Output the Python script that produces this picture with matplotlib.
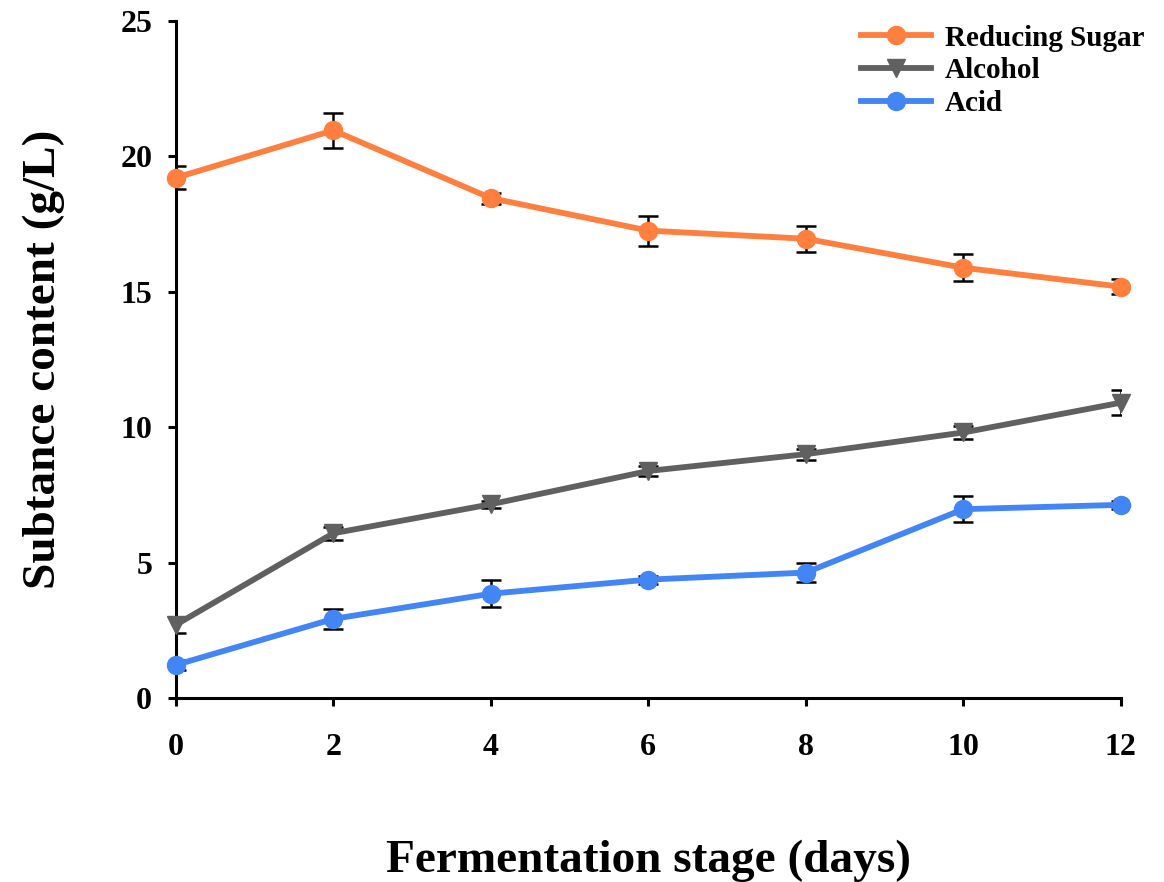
import matplotlib
matplotlib.use("Agg")
import matplotlib.pyplot as plt

plt.rcParams['font.family'] = ['Liberation Serif', 'DejaVu Serif']
plt.rcParams['font.weight'] = 'bold'

days = [0, 2, 4, 6, 8, 10, 12]

sugar = [19.2, 20.95, 18.45, 17.25, 16.95, 15.88, 15.18]
sugar_err = [0.42, 0.65, 0.2, 0.55, 0.48, 0.5, 0.28]

alcohol = [2.7, 6.08, 7.15, 8.38, 9.0, 9.8, 10.9]
alcohol_err = [0.3, 0.25, 0.12, 0.2, 0.2, 0.25, 0.45]

acid = [1.22, 2.92, 3.85, 4.37, 4.63, 6.97, 7.13]
acid_err = [0.2, 0.37, 0.5, 0.15, 0.35, 0.48, 0.15]

series = [
    ("Reducing Sugar", sugar, sugar_err, "#FF7F3F", "o"),
    ("Alcohol", alcohol, alcohol_err, "#606060", "v"),
    ("Acid", acid, acid_err, "#4285F4", "o"),
]

fig = plt.figure(figsize=(11.64, 8.82), dpi=100)
ax = fig.add_axes([0.151, 0.2086, 0.812, 0.768])

for name, vals, errs, col, mk in series:
    ax.errorbar(days, vals, yerr=errs, fmt='none', ecolor='black',
                elinewidth=1.8, capsize=7.5, capthick=1.8, zorder=2)
    ax.plot(days, vals, color=col, lw=4.2, marker=mk, markersize=13,
            label=name, zorder=3, clip_on=False)

ax.set_xlim(0, 12)
ax.set_ylim(0, 25)
ax.set_xticks(days)
ax.set_yticks([0, 5, 10, 15, 20, 25])

for s in ['top', 'right']:
    ax.spines[s].set_visible(False)
for s in ['left', 'bottom']:
    ax.spines[s].set_linewidth(2.2)

ax.tick_params(axis='both', direction='out', length=6, width=2.2, labelsize=23)
ax.tick_params(axis='x', pad=19)
ax.tick_params(axis='y', pad=11)
for lab in ax.get_xticklabels() + ax.get_yticklabels():
    lab.set_fontweight('bold')

ax.set_ylabel("Subtance content (g/L)", fontsize=34, fontweight='bold', labelpad=40)
ax.set_xlabel("Fermentation stage (days)", fontsize=34, fontweight='bold', labelpad=56)

ax.legend(loc='upper right', bbox_to_anchor=(1.043, 1.02), frameon=False,
          prop={'size': 21, 'weight': 'bold'}, handlelength=2.4,
          labelspacing=0.2, handletextpad=0.45, borderaxespad=0.2)

fig.savefig("out.png", dpi=100)
